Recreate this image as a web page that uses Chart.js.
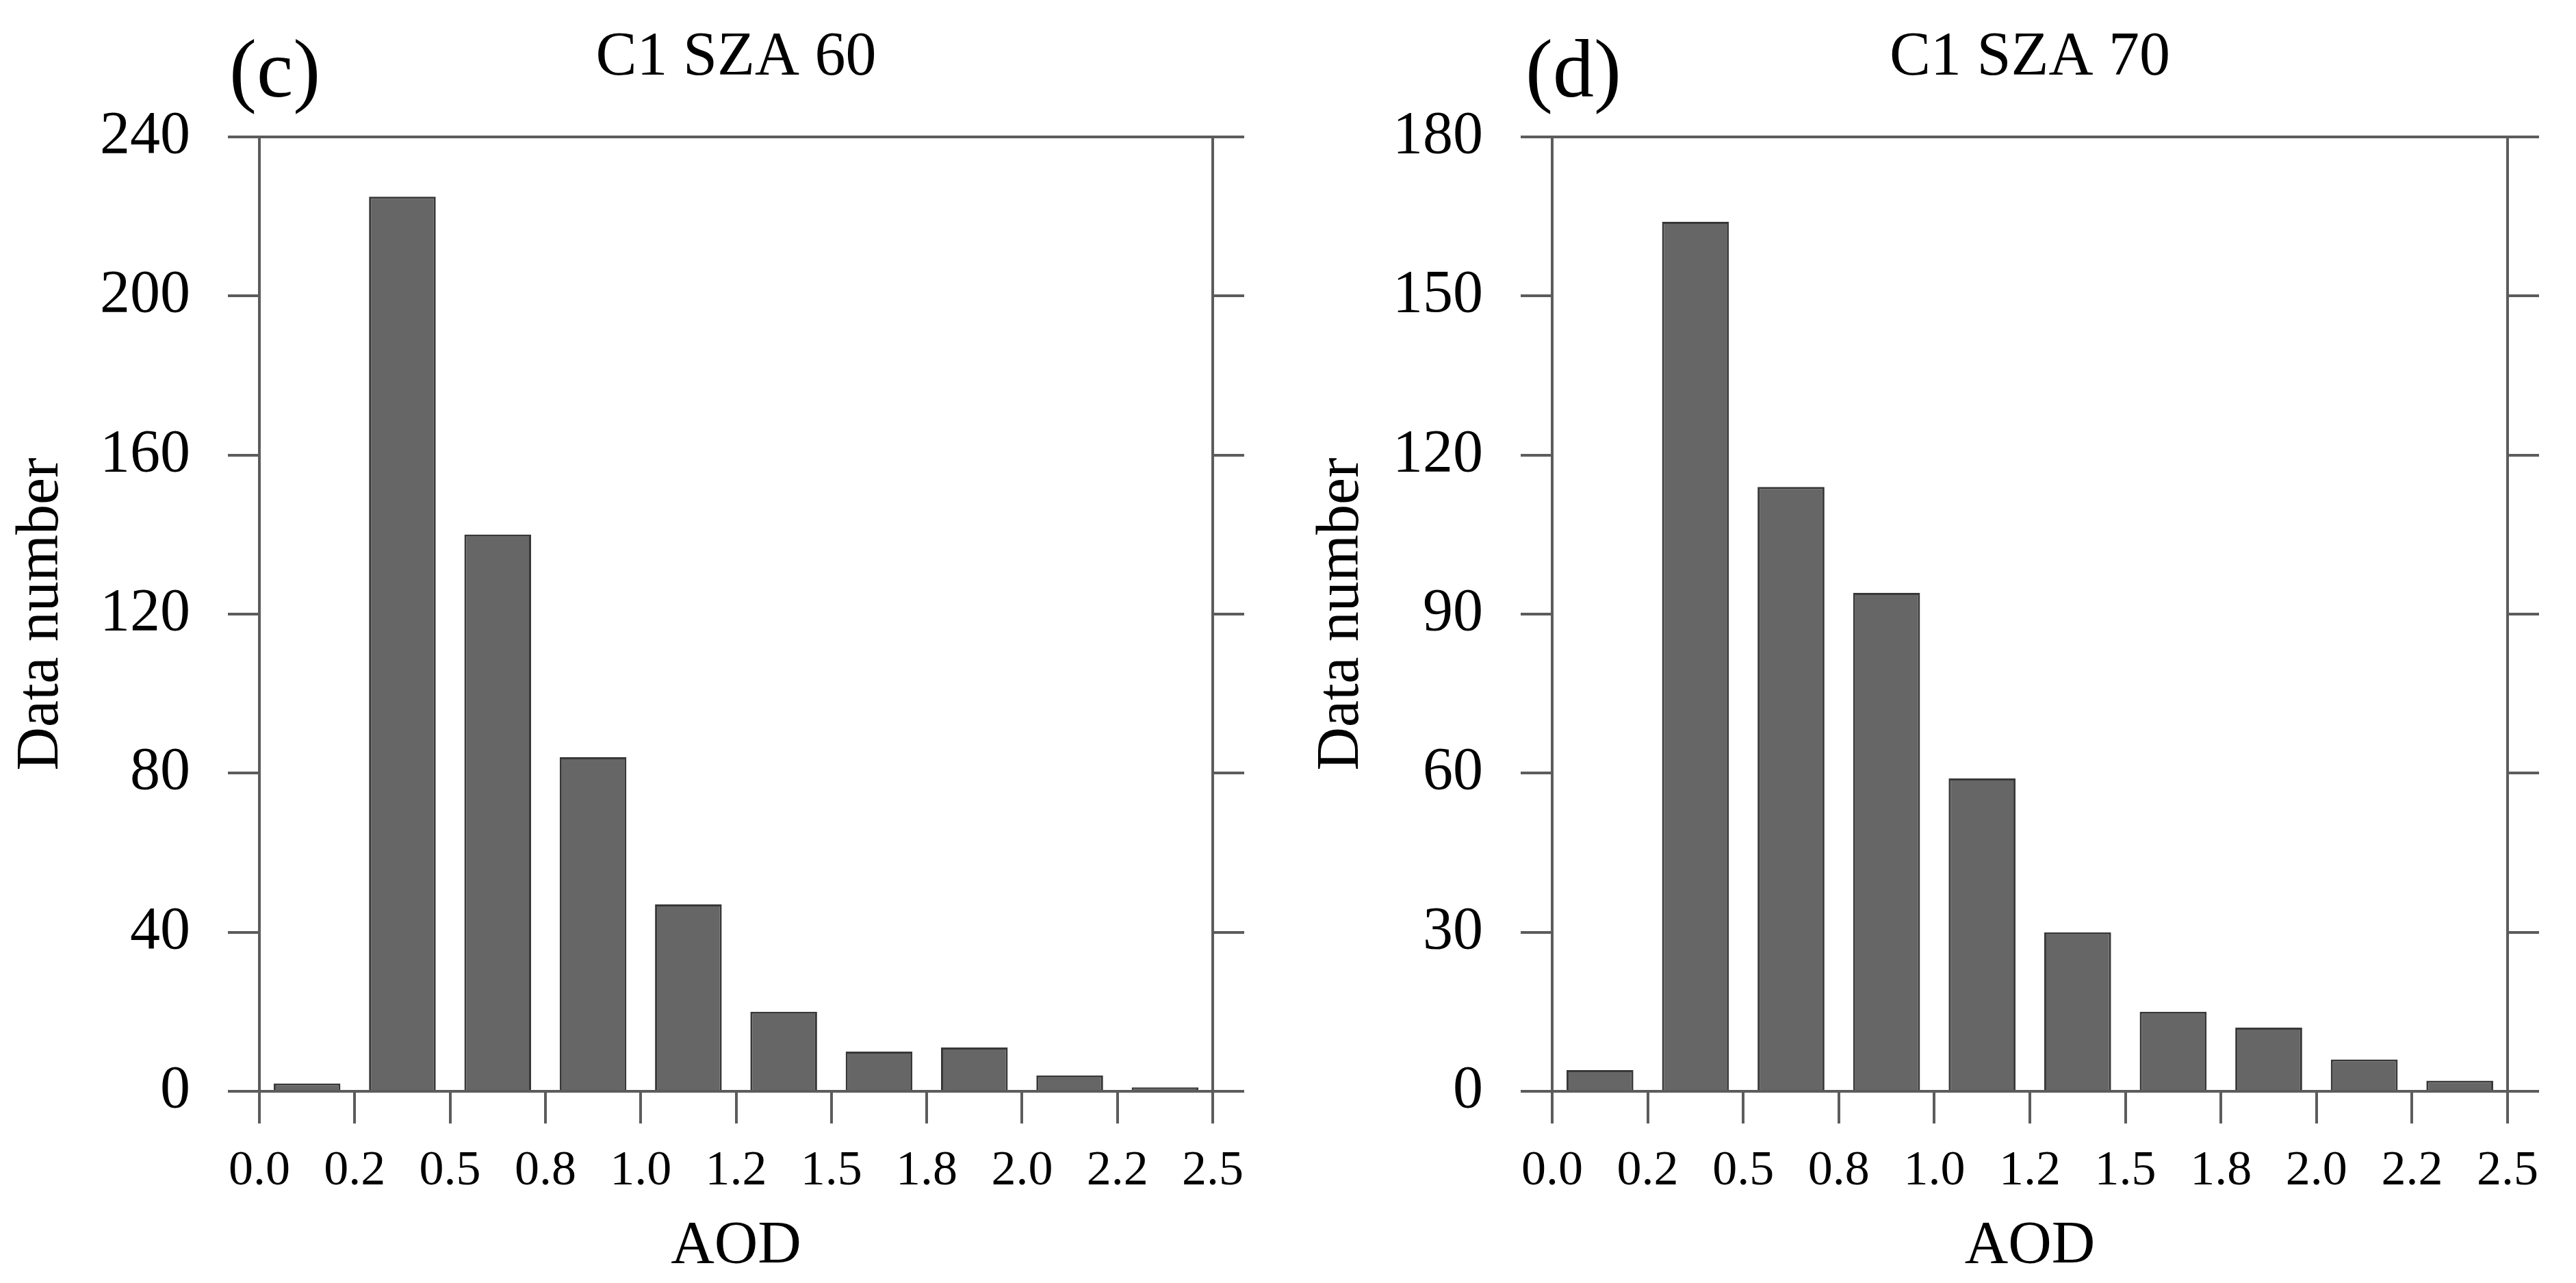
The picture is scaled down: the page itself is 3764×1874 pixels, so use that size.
<!DOCTYPE html>
<html>
<head>
<meta charset="utf-8">
<title>C1 SZA 60 / 70 AOD histograms</title>
<script src="https://cdn.jsdelivr.net/npm/chart.js@4/dist/chart.umd.min.js"></script>
<style>
    html, body { margin: 0; padding: 0; background: #fff; overflow: hidden; }
    canvas { position: absolute; top: 0; }
    #sza60Chart { left: 0; }
    #sza70Chart { left: 1882px; }
</style>
</head>
<body>
<canvas id="sza60Chart" width="1882" height="1874"></canvas>
<canvas id="sza70Chart" width="1882" height="1874"></canvas>
<script>
// AOD bins (0.25 wide) and the labels printed under the bin edges
const binCenters = [0.125, 0.375, 0.625, 0.875, 1.125, 1.375, 1.625, 1.875, 2.125, 2.375];
const aodTickLabels = ['0.0', '0.2', '0.5', '0.8', '1.0', '1.2', '1.5', '1.8', '2.0', '2.2', '2.5'];

// Data number per bin
const countsSza60 = [2, 225, 140, 84, 47, 20, 10, 11, 4, 1];
const countsSza70 = [4, 164, 114, 94, 59, 30, 15, 12, 6, 2];

// Y axis ticks
const yTicksSza60 = [0, 40, 80, 120, 160, 200, 240];
const yTicksSza70 = [0, 30, 60, 90, 120, 150, 180];

const FONT = "'Liberation Serif', 'Times New Roman', serif";
const AXIS_COLOR = '#5c5c5c';

// draws the "(c)" / "(d)" panel letter
const panelLetter = {
    id: 'panelLetter',
    afterDraw(chart, args, opts) {
        const ctx = chart.ctx;
        ctx.save();
        ctx.font = opts.size + 'px ' + FONT;
        ctx.fillStyle = '#000';
        ctx.textBaseline = 'alphabetic';
        ctx.textAlign = 'left';
        ctx.fillText(opts.text, opts.x, opts.y);
        ctx.restore();
    }
};

function makeHistogram(canvasId, panel) {
    const el = document.getElementById(canvasId);
    if (!el) return;

    const yTicks = panel.yTicks;
    const tickMark = { display: true, drawOnChartArea: false, drawTicks: true, tickLength: 46,
                       color: AXIS_COLOR, lineWidth: 4 };
    const border = { display: true, color: AXIS_COLOR, width: 4 };

    new Chart(el, {
        type: 'bar',
        data: {
            datasets: [{
                label: panel.title,
                data: binCenters.map((x, i) => ({ x: x, y: panel.counts[i] })),
                backgroundColor: '#666666',
                borderColor: '#383838',
                borderWidth: 3,
                barPercentage: 0.7,
                categoryPercentage: 1.0,
                xAxisID: 'x',
                yAxisID: 'y'
            }]
        },
        plugins: [panelLetter],
        options: {
            responsive: false,
            devicePixelRatio: 1,
            animation: false,
            layout: { padding: 0 },
            plugins: {
                legend: { display: false },
                tooltip: { enabled: false },
                title: {
                    display: true,
                    text: panel.title,
                    fullSize: false,
                    color: '#000',
                    font: { family: FONT, size: 90, weight: 'normal', lineHeight: 1.2 },
                    padding: { top: 31, bottom: 61 }
                },
                panelLetter: { text: panel.letter, x: panel.letterX, y: 141, size: 120 }
            },
            scales: {
                x: {
                    type: 'linear',
                    position: 'bottom',
                    min: 0,
                    max: 2.5,
                    offset: false,
                    grid: Object.assign({}, tickMark, { tickLength: 47, offset: false }),
                    border: border,
                    ticks: {
                        stepSize: 0.25,
                        autoSkip: false,
                        maxRotation: 0,
                        padding: 27,
                        color: '#000',
                        font: { family: FONT, size: 72, lineHeight: 1.2 },
                        callback: (v, i) => aodTickLabels[i]
                    },
                    title: {
                        display: true,
                        text: 'AOD',
                        color: '#000',
                        font: { family: FONT, size: 88, lineHeight: 1.2 },
                        padding: { top: 0, bottom: 0 }
                    },
                    afterFit: (scale) => { scale.height = 280; }
                },
                xTop: {
                    type: 'linear',
                    position: 'top',
                    min: 0,
                    max: 2.5,
                    offset: false,
                    grid: { display: false, drawTicks: false },
                    border: border,
                    ticks: { display: false },
                    afterFit: (scale) => { scale.height = 0; }
                },
                y: {
                    position: 'left',
                    min: yTicks[0],
                    max: yTicks[yTicks.length - 1],
                    grid: tickMark,
                    border: border,
                    afterBuildTicks: (scale) => { scale.ticks = yTicks.map(v => ({ value: v })); },
                    ticks: {
                        padding: 55,
                        color: '#000',
                        font: { family: FONT, size: 88, lineHeight: 1.2 }
                    },
                    title: {
                        display: true,
                        text: 'Data number',
                        color: '#000',
                        font: { family: FONT, size: 88, lineHeight: 1.2 },
                        padding: { top: panel.yTitlePad, bottom: 0 }
                    },
                    afterFit: (scale) => { scale.width = panel.areaLeft; }
                },
                yRight: {
                    position: 'right',
                    min: yTicks[0],
                    max: yTicks[yTicks.length - 1],
                    grid: tickMark,
                    border: border,
                    afterBuildTicks: (scale) => { scale.ticks = yTicks.map(v => ({ value: v })); },
                    ticks: { display: false },
                    afterFit: (scale) => { scale.width = panel.rightWidth; }
                }
            }
        }
    });
}

document.addEventListener('DOMContentLoaded', () => {
    makeHistogram('sza60Chart', {
        letter: '(c)', letterX: 335, title: 'C1 SZA 60',
        counts: countsSza60, yTicks: yTicksSza60,
        areaLeft: 379, rightWidth: 110, yTitlePad: 8
    });
    makeHistogram('sza70Chart', {
        letter: '(d)', letterX: 347, title: 'C1 SZA 70',
        counts: countsSza70, yTicks: yTicksSza70,
        areaLeft: 386, rightWidth: 100, yTitlePad: 26
    });
});
</script>
</body>
</html>
